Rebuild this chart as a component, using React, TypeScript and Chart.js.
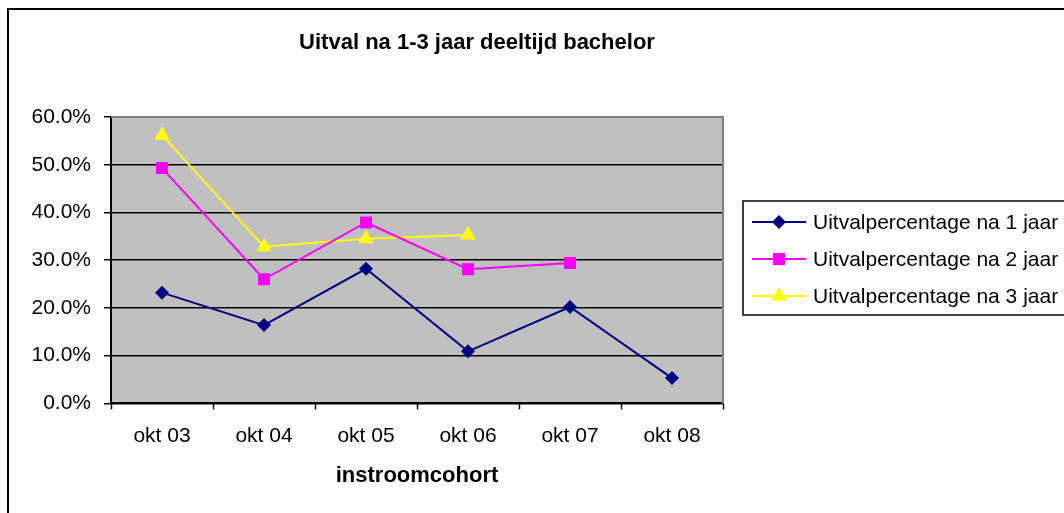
import React, { useEffect, useRef } from "react";
import { Chart, registerables } from "chart.js";

Chart.register(...registerables);

const categories = ["okt 03", "okt 04", "okt 05", "okt 06", "okt 07", "okt 08"];
const jaar1 = [23.2, 16.4, 28.2, 10.9, 20.2, 5.3];
const jaar2 = [49.3, 26.0, 37.9, 28.1, 29.4, null];
const jaar3 = [56.2, 32.8, 34.5, 35.3, null, null];
const seriesLabels = [
  "Uitvalpercentage na 1 jaar",
  "Uitvalpercentage na 2 jaar",
  "Uitvalpercentage na 3 jaar",
];
const yTicks = [0, 10, 20, 30, 40, 50, 60];
const titleText = "Uitval na 1-3 jaar deeltijd bachelor";
const xTitle = "instroomcohort";

const FONT = "'Liberation Sans', Arial, sans-serif";

function drawMarker(ctx: CanvasRenderingContext2D, style: string, x: number, y: number, r: number, color: string) {
  ctx.save();
  ctx.fillStyle = color;
  ctx.beginPath();
  if (style === "rectRot") {
    ctx.moveTo(x, y - r);
    ctx.lineTo(x + r, y);
    ctx.lineTo(x, y + r);
    ctx.lineTo(x - r, y);
    ctx.closePath();
  } else if (style === "rect") {
    const s = Math.SQRT1_2 * r;
    ctx.rect(x - s, y - s, 2 * s, 2 * s);
  } else {
    ctx.moveTo(x, y - r);
    ctx.lineTo(x + r * 0.866, y + r * 0.5);
    ctx.lineTo(x - r * 0.866, y + r * 0.5);
    ctx.closePath();
  }
  ctx.fill();
  ctx.restore();
}

const excelPlugin = {
  id: "excelLook",
  beforeDraw(chart: any) {
    const { ctx, chartArea: a } = chart;
    ctx.save();
    ctx.fillStyle = "#C0C0C0";
    ctx.fillRect(a.left, a.top, a.right - a.left, a.bottom - a.top);
    ctx.restore();
  },
  beforeDatasetsDraw(chart: any) {
    const { ctx, chartArea: a } = chart;
    ctx.save();
    ctx.strokeStyle = "#808080";
    ctx.lineWidth = 2;
    ctx.beginPath();
    ctx.moveTo(a.left, a.top);
    ctx.lineTo(a.right, a.top);
    ctx.lineTo(a.right, a.bottom);
    ctx.stroke();
    ctx.restore();
  },
  afterDraw(chart: any) {
    const { ctx } = chart;
    ctx.save();
    // title
    ctx.fillStyle = "#000";
    ctx.font = `bold 22px ${FONT}`;
    ctx.textAlign = "center";
    ctx.textBaseline = "middle";
    ctx.fillText(titleText, 477, 43);
    // legend
    const lx = 743, ly = 201, lh = 114;
    ctx.fillStyle = "#fff";
    ctx.fillRect(lx, ly, 400, lh);
    ctx.strokeStyle = "#000";
    ctx.lineWidth = 1.5;
    ctx.strokeRect(lx, ly, 400, lh);
    chart.data.datasets.forEach((ds: any, i: number) => {
      const y = 222 + i * 37;
      ctx.strokeStyle = ds.borderColor;
      ctx.lineWidth = 2;
      ctx.beginPath();
      ctx.moveTo(752, y);
      ctx.lineTo(806, y);
      ctx.stroke();
      drawMarker(ctx, ds.pointStyle, 779, y, ds.pointRadius, ds.pointBackgroundColor);
      ctx.fillStyle = "#000";
      ctx.font = `21px ${FONT}`;
      ctx.textAlign = "left";
      ctx.textBaseline = "middle";
      ctx.fillText(ds.label, 813, y + 1);
    });
    ctx.restore();
  },
};

export default function App() {
  const ref = useRef<HTMLCanvasElement | null>(null);

  useEffect(() => {
    document.body.style.margin = "0";
    const canvas = ref.current!;
    const chart = new Chart(canvas, {
      type: "line",
      data: {
        labels: categories,
        datasets: [
          {
            label: seriesLabels[0],
            data: jaar1,
            borderColor: "#000080",
            backgroundColor: "#000080",
            pointBackgroundColor: "#000080",
            pointBorderColor: "#000080",
            pointStyle: "rectRot",
            pointRadius: 7,
            pointBorderWidth: 0,
            borderWidth: 2,
          },
          {
            label: seriesLabels[1],
            data: jaar2,
            borderColor: "#FF00FF",
            backgroundColor: "#FF00FF",
            pointBackgroundColor: "#FF00FF",
            pointBorderColor: "#FF00FF",
            pointStyle: "rect",
            pointRadius: 8.5,
            pointBorderWidth: 0,
            borderWidth: 2,
          },
          {
            label: seriesLabels[2],
            data: jaar3,
            borderColor: "#FFFF00",
            backgroundColor: "#FFFF00",
            pointBackgroundColor: "#FFFF00",
            pointBorderColor: "#FFFF00",
            pointStyle: "triangle",
            pointRadius: 9,
            pointBorderWidth: 0,
            borderWidth: 2,
          },
        ] as any,
      },
      options: {
        responsive: false,
        animation: false,
        devicePixelRatio: 1,
        spanGaps: false,
        layout: { padding: { left: 0, right: 341, top: 117, bottom: 20 } },
        plugins: {
          legend: { display: false },
          title: { display: false },
          tooltip: { enabled: false },
        },
        scales: {
          x: {
            type: "category",
            offset: true,
            grid: {
              display: true,
              drawOnChartArea: false,
              drawTicks: true,
              tickLength: 6,
              color: "#000",
              tickColor: "#000",
              tickWidth: 1.5,
              offset: true,
            },
            border: { display: true, color: "#000", width: 2 },
            ticks: {
              color: "#000",
              font: { family: FONT, size: 21 },
              padding: 14,
              maxRotation: 0,
            },
            title: {
              display: true,
              text: xTitle,
              color: "#000",
              font: { family: FONT, size: 22, weight: "bold" },
              padding: { top: 0, bottom: 4 },
            },
          },
          y: {
            min: 0,
            max: 60,
            afterFit(scale: any) {
              scale.width = 111;
            },
            afterBuildTicks(scale: any) {
              scale.ticks = yTicks.map((v) => ({ value: v }));
            },
            grid: {
              color: (c: any) => (c.tick && c.tick.value === 60 ? "rgba(0,0,0,0)" : "#000"),
              lineWidth: 1.5,
              tickColor: "#000",
              tickLength: 7,
              tickWidth: 1.5,
            },
            border: { display: true, color: "#000", width: 2 },
            ticks: {
              color: "#000",
              font: { family: FONT, size: 21 },
              padding: 13,
              callback: (v: any) => Number(v).toFixed(1) + "%",
            },
          },
        },
      },
      plugins: [excelPlugin],
    } as any);
    return () => chart.destroy();
  }, []);

  return (
    <div style={{ position: "fixed", left: 0, top: 0, width: 1064, height: 513, overflow: "hidden", background: "#fff" }}>
      <div
        style={{
          position: "absolute",
          left: 7,
          top: 8,
          width: 1200,
          height: 700,
          border: "2px solid #000",
          boxSizing: "border-box",
        }}
      />
      <canvas ref={ref} width={1064} height={513} style={{ position: "absolute", left: 0, top: 0, width: 1064, height: 513 }} />
    </div>
  );
}
